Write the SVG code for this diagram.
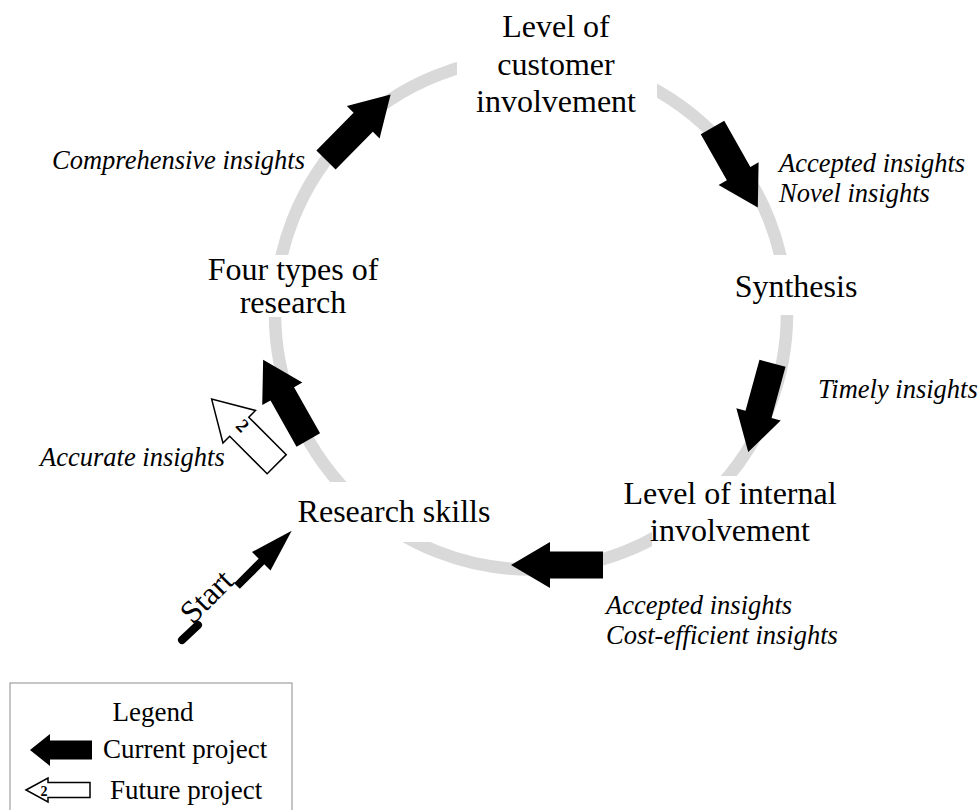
<svg xmlns="http://www.w3.org/2000/svg" xmlns:xlink="http://www.w3.org/1999/xlink" width="980" height="810" viewBox="0 0 980 810">
  <style>
    .ring { fill: none; stroke: #d9d9d9; stroke-width: 12.5; }
    .bg { fill: #ffffff; stroke: none; }
    .node { font-family: "Liberation Serif", "Times New Roman", serif; font-size: 32px; fill: #000; text-anchor: middle; }
    .lbl { font-family: "Liberation Serif", "Times New Roman", serif; font-size: 26.5px; font-style: italic; fill: #000; }
    .leg { font-family: "Liberation Serif", "Times New Roman", serif; font-size: 27px; fill: #000; }
    .num { font-family: "Liberation Serif", "Times New Roman", serif; font-weight: bold; fill: #000; text-anchor: middle; }
    .cur { fill: #000; stroke: none; }
    .fut { fill: #fff; stroke: #000; stroke-width: 1.5; stroke-linejoin: miter; }
  </style>
  <defs>
    <!-- block arrow pointing right, tail centre at the origin -->
    <path id="blk" d="M0,-13.5 L53,-13.5 L53,-23 L92,0 L53,23 L53,13.5 L0,13.5 Z"/>
  </defs>

  <rect width="980" height="810" fill="#ffffff"/>

  <!-- cycle ring -->
  <circle class="ring" cx="531" cy="313.5" r="256"/>

  <!-- nodes: white boxes break the ring behind each label -->
  <g id="node-customer">
    <rect class="bg" x="457" y="0" width="200" height="122"/>
    <text class="node" x="556" y="37">Level of</text>
    <text class="node" x="556" y="74.5">customer</text>
    <text class="node" x="556" y="112">involvement</text>
  </g>
  <g id="node-synthesis">
    <rect class="bg" x="730" y="255" width="130" height="60"/>
    <text class="node" x="796" y="297">Synthesis</text>
  </g>
  <g id="node-internal">
    <rect class="bg" x="620" y="476" width="220" height="33"/>
    <rect class="bg" x="652" y="509" width="162" height="40"/>
    <text class="node" x="730" y="503.5">Level of internal</text>
    <text class="node" x="730" y="541">involvement</text>
  </g>
  <g id="node-skills">
    <rect class="bg" x="290" y="482" width="205" height="60"/>
    <text class="node" x="394" y="522">Research skills</text>
  </g>
  <g id="node-types">
    <rect class="bg" x="200" y="255" width="185" height="62"/>
    <text class="node" x="293" y="280">Four types of</text>
    <text class="node" x="293" y="313">research</text>
  </g>

  <!-- connectors -->
  <g id="connectors">
    <use xlink:href="#blk" class="cur" transform="translate(326,160) rotate(-45.4)"/>
    <use xlink:href="#blk" class="cur" transform="translate(712.5,127.5) rotate(60.5)"/>
    <use xlink:href="#blk" class="cur" transform="translate(772.5,363.3) rotate(105.3)"/>
    <use xlink:href="#blk" class="cur" transform="translate(603,565) rotate(180)"/>
    <use xlink:href="#blk" class="cur" transform="translate(308.3,440) rotate(240.6)"/>
    <!-- future project arrow -->
    <g id="future-arrow">
      <use xlink:href="#blk" class="fut" transform="translate(276.7,464.2) rotate(225)"/>
      <text class="num" font-size="19" transform="translate(238,430) rotate(45)">2</text>
    </g>
    <!-- start arrow -->
    <g id="start-arrow">
      <line x1="182" y1="640" x2="198" y2="625" stroke="#000" stroke-width="8" stroke-linecap="round"/>
      <line x1="237" y1="586" x2="263" y2="560" stroke="#000" stroke-width="8"/>
      <polygon points="291.7,530.7 270.5,570.5 252,552" fill="#000"/>
      <text class="node" font-size="31" transform="translate(214,604) rotate(-45)">Start</text>
    </g>
  </g>

  <!-- connector labels -->
  <g id="labels">
    <text class="lbl" x="52" y="169">Comprehensive insights</text>
    <text class="lbl" x="779" y="172">Accepted insights</text>
    <text class="lbl" x="779" y="202">Novel insights</text>
    <text class="lbl" x="818" y="398">Timely insights</text>
    <text class="lbl" x="40" y="466">Accurate insights</text>
    <text class="lbl" x="606" y="614">Accepted insights</text>
    <text class="lbl" x="606" y="644">Cost-efficient insights</text>
  </g>

  <!-- legend -->
  <g id="legend">
    <rect x="10" y="683" width="282" height="140" fill="#fff" stroke="#8c8c8c" stroke-width="1"/>
    <text class="leg" x="153" y="721" text-anchor="middle" font-size="26">Legend</text>
    <polygon class="cur" points="30,750 50,734 50,740.5 92,740.5 92,759.5 50,759.5 50,766"/>
    <text class="leg" x="103" y="758">Current project</text>
    <polygon class="fut" points="26,790 48,778 48,782.5 90,782.5 90,797.5 48,797.5 48,802"/>
    <text class="num" x="44" y="796" font-size="14">2</text>
    <text class="leg" x="110" y="799">Future project</text>
  </g>
</svg>
